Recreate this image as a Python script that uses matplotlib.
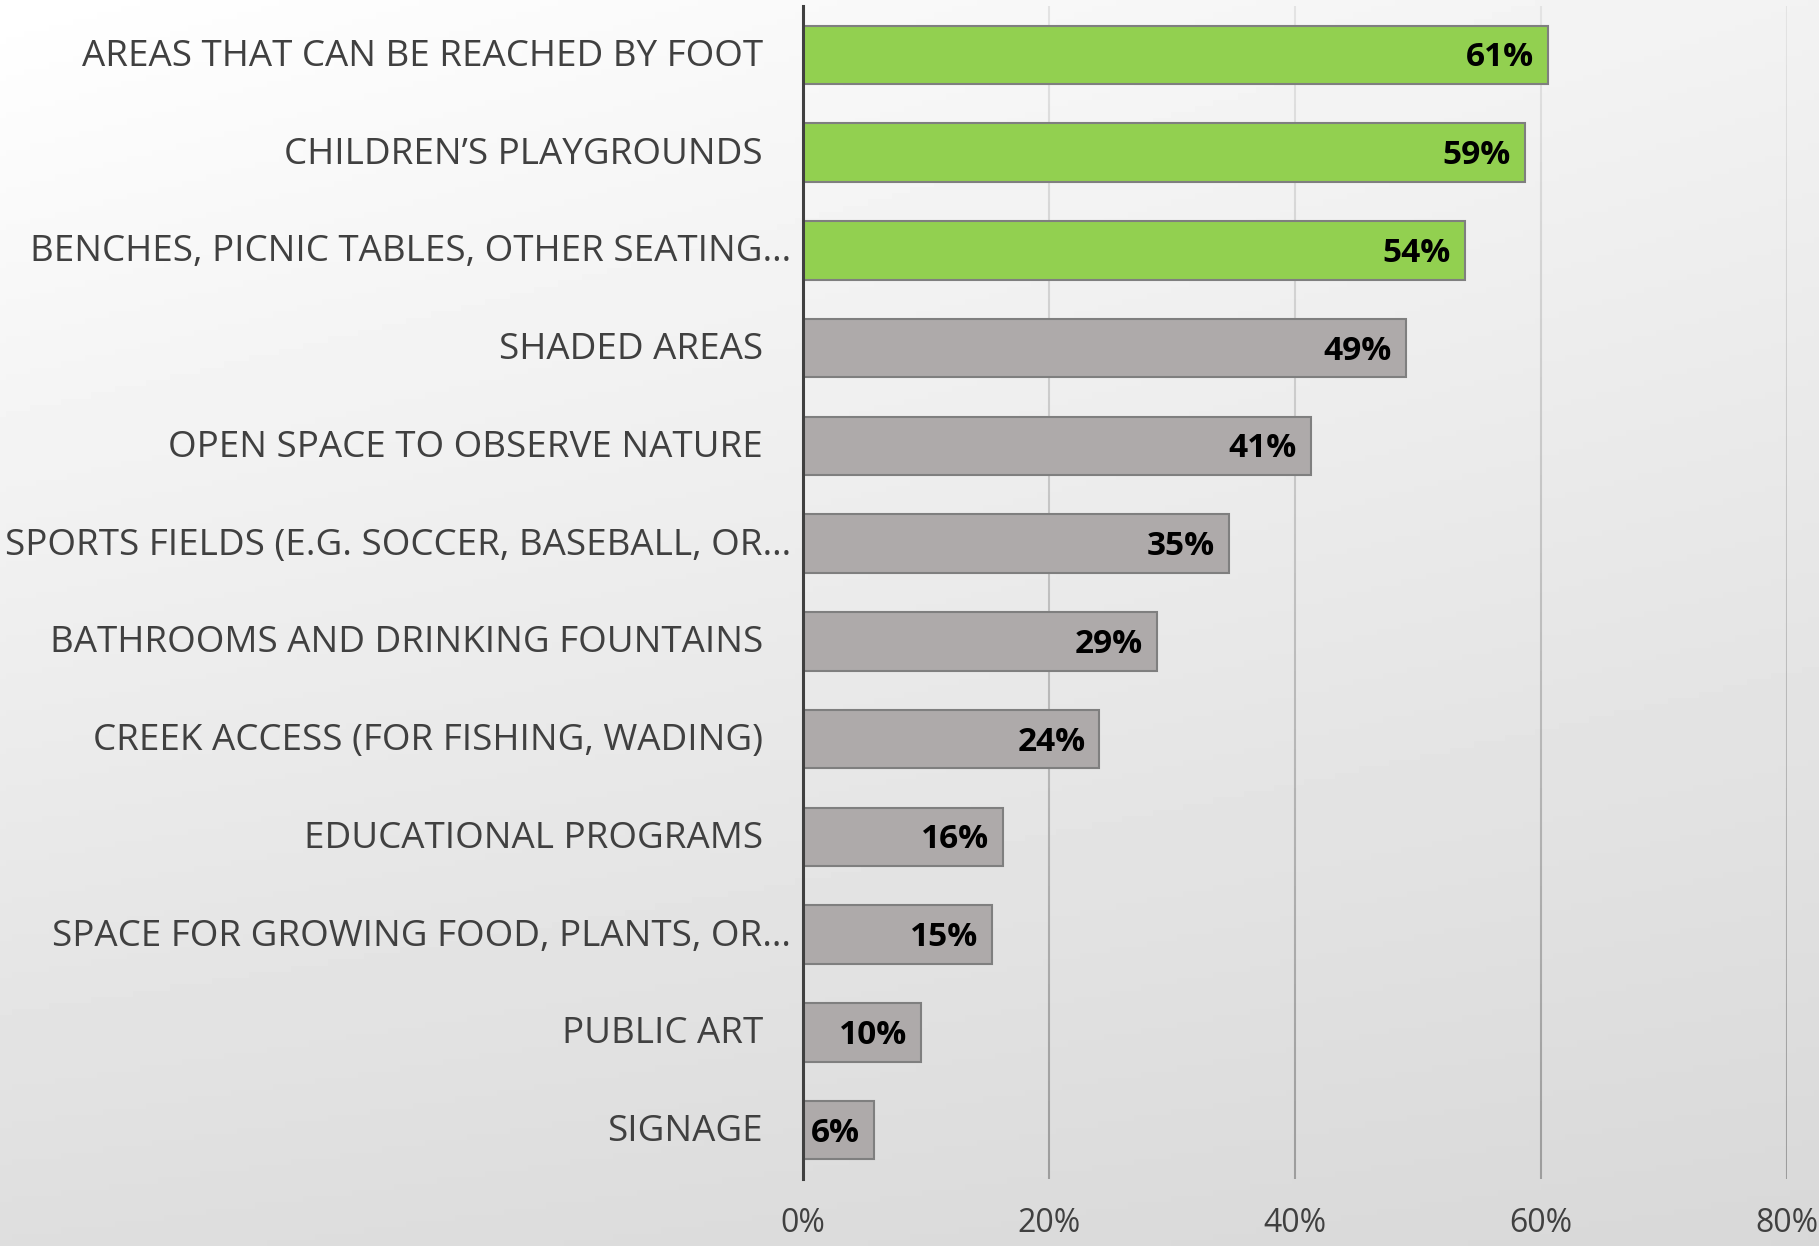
import numpy as np
import matplotlib.pyplot as plt
from matplotlib.collections import LineCollection

categories = [
    "AREAS THAT CAN BE REACHED BY FOOT",
    "CHILDREN\u2019S PLAYGROUNDS",
    "BENCHES, PICNIC TABLES, OTHER SEATING\u2026",
    "SHADED AREAS",
    "OPEN SPACE TO OBSERVE NATURE",
    "SPORTS FIELDS (E.G. SOCCER, BASEBALL, OR\u2026",
    "BATHROOMS AND DRINKING FOUNTAINS",
    "CREEK ACCESS (FOR FISHING, WADING)",
    "EDUCATIONAL PROGRAMS",
    "SPACE FOR GROWING FOOD, PLANTS, OR\u2026",
    "PUBLIC ART",
    "SIGNAGE",
]
values = [60.6, 58.7, 53.8, 49.0, 41.3, 34.6, 28.8, 24.1, 16.3, 15.4, 9.6, 5.8]
value_labels = ["61%", "59%", "54%", "49%", "41%", "35%", "29%", "24%", "16%", "15%", "10%", "6%"]
highlight = [True, True, True] + [False] * 9
x_ticks = [0, 20, 40, 60, 80]

GREEN = "#92D050"
GRAY = "#AEAAAA"
EDGE = "#7F7F7F"
TEXT = "#404040"

plt.rcParams['font.family'] = ['Open Sans', 'DejaVu Sans']

W, H = 1819, 1246
fig = plt.figure(figsize=(W / 100, H / 100), dpi=100)

# background gradient (bilinear between corner greys)
bg = fig.add_axes([0, 0, 1, 1], zorder=-10)
yy, xx = np.mgrid[0:1:200j, 0:1:300j]
tl, tr, bl, br = 255, 242, 222, 216
g = (tl * (1 - xx) * (1 - yy) + tr * xx * (1 - yy) + bl * (1 - xx) * yy + br * xx * yy) / 255
bg.imshow(g, cmap='gray', vmin=0, vmax=1, aspect='auto', extent=[0, 1, 1, 0])
bg.axis('off')

left, right, top, bottom = 803, 1787, 6, 1179
ax = fig.add_axes([left / W, 1 - bottom / H, (right - left) / W, (bottom - top) / H])
ax.patch.set_alpha(0)

n = len(categories)
ypos = np.arange(n)
colors = [GREEN if h else GRAY for h in highlight]
ax.barh(ypos, values, height=0.6, color=colors, edgecolor=EDGE, linewidth=1.5, zorder=3)

ax.set_xlim(0, 80)
ax.set_ylim(n - 0.5, -0.5)

# vertical gridlines that darken towards the bottom
segs, cols = [], []
steps = 60
edges = np.linspace(-0.5, n - 0.5, steps + 1)
for xv in x_ticks[1:]:
    for k in range(steps):
        segs.append([(xv, edges[k]), (xv, edges[k + 1])])
        c = 0.89 - 0.28 * (k / steps)
        cols.append((c, c, c))
ax.add_collection(LineCollection(segs, colors=cols, linewidths=1.5, zorder=1))

for s in ['top', 'right', 'bottom']:
    ax.spines[s].set_visible(False)
ax.spines['left'].set_color(TEXT)
ax.spines['left'].set_linewidth(2.2)
ax.spines['left'].set_zorder(4)

ax.set_yticks([])
ax.set_xticks(x_ticks)
ax.set_xticklabels([f"{t}%" for t in x_ticks], fontsize=23, color=TEXT)
ax.tick_params(axis='x', length=0, pad=20)

for i, (v, lab) in enumerate(zip(values, value_labels)):
    ax.annotate(lab, xy=(v, i), xytext=(-14, -3), textcoords='offset pixels',
                ha='right', va='center', fontsize=24, fontweight='bold',
                color='black', zorder=5)

for i, cat in enumerate(categories):
    off = -12 if cat.endswith('\u2026') else -40
    ax.annotate(cat, xy=(0, i), xytext=(off, -2),
                textcoords='offset pixels', ha='right', va='center',
                fontsize=26.5, color=TEXT, annotation_clip=False)

fig.savefig("out.png", dpi=100)
